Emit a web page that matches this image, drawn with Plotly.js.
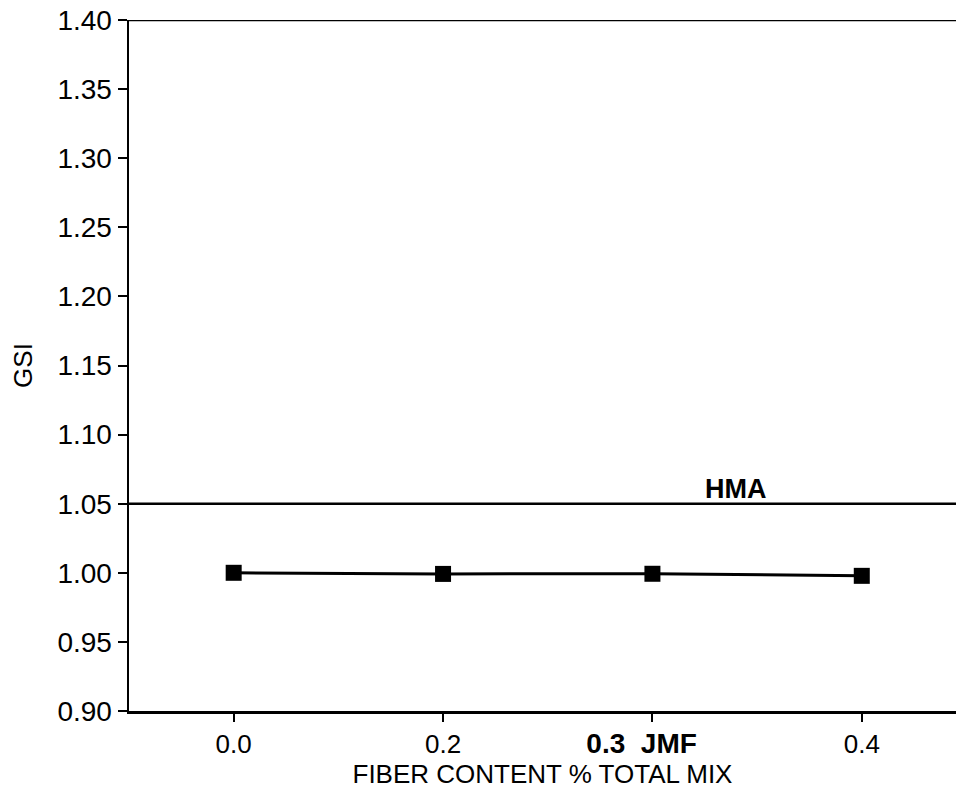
<!DOCTYPE html>
<html>
<head>
<meta charset="utf-8">
<script src="https://cdn.plot.ly/plotly-3.0.1.min.js"></script>
<style>html,body{margin:0;padding:0;background:#fff;}#chart{width:956px;height:792px;}</style>
</head>
<body>
<div id="chart"></div>
<script>
// Data
var fiberCategories = [0, 1, 2, 3];
var fiberTickLabels = ["0.0", "0.2", "<b><span style='font-size:28px'>0.3  JMF</span></b>&nbsp;&nbsp;&nbsp;", "0.4"];
var gsiValues = [1.000, 0.9992, 0.9993, 0.9978];
var hmaValue = 1.05;
var hmaLabel = "HMA";
var yTickVals = [0.90, 0.95, 1.00, 1.05, 1.10, 1.15, 1.20, 1.25, 1.30, 1.35, 1.40];
var yTickText = ["0.90", "0.95", "1.00", "1.05", "1.10", "1.15", "1.20", "1.25", "1.30", "1.35", "1.40"];

var font = "Liberation Sans, Arial, Helvetica, sans-serif";

var trace = {
  x: fiberCategories,
  y: gsiValues,
  mode: "lines+markers",
  line: {color: "#000", width: 3},
  marker: {symbol: "square", size: 16, color: "#000"},
  showlegend: false,
  hoverinfo: "x+y"
};

var layout = {
  width: 956,
  height: 792,
  margin: {l: 129, r: 0, t: 20, b: 81},
  paper_bgcolor: "#fff",
  plot_bgcolor: "#fff",
  font: {family: font, color: "#000", size: 26},
  xaxis: {
    range: [-0.50, 3.45],
    tickvals: fiberCategories,
    ticktext: fiberTickLabels,
    ticks: "outside",
    ticklen: 8,
    tickwidth: 2,
    tickcolor: "#000",
    showline: true,
    linewidth: 2.5,
    linecolor: "#000",
    showgrid: false,
    zeroline: false,
    tickfont: {size: 26},
    title: {text: "FIBER CONTENT % TOTAL MIX", font: {size: 26}, standoff: 4}
  },
  yaxis: {
    range: [0.90, 1.40],
    tickvals: yTickVals,
    ticktext: yTickText,
    ticks: "outside",
    ticklen: 9,
    tickwidth: 2,
    tickcolor: "#000",
    showline: true,
    linewidth: 2.5,
    linecolor: "#000",
    showgrid: false,
    zeroline: false,
    tickfont: {size: 28},
    title: {text: "GSI", font: {size: 26}, standoff: 18}
  },
  shapes: [
    {type: "line", xref: "paper", yref: "y", x0: 0, x1: 1, y0: 1.40, y1: 1.40,
     line: {color: "#000", width: 2.5}},
    {type: "line", xref: "paper", yref: "y", x0: 0, x1: 1, y0: hmaValue, y1: hmaValue,
     line: {color: "#000", width: 2.5}}
  ],
  annotations: [
    {x: 2.40, y: hmaValue, xref: "x", yref: "y", text: "<b>" + hmaLabel + "</b>",
     showarrow: false, yanchor: "bottom", yshift: -2, font: {size: 27, family: font}}
  ]
};

Plotly.newPlot("chart", [trace], layout, {displayModeBar: false, staticPlot: true});
</script>
</body>
</html>
